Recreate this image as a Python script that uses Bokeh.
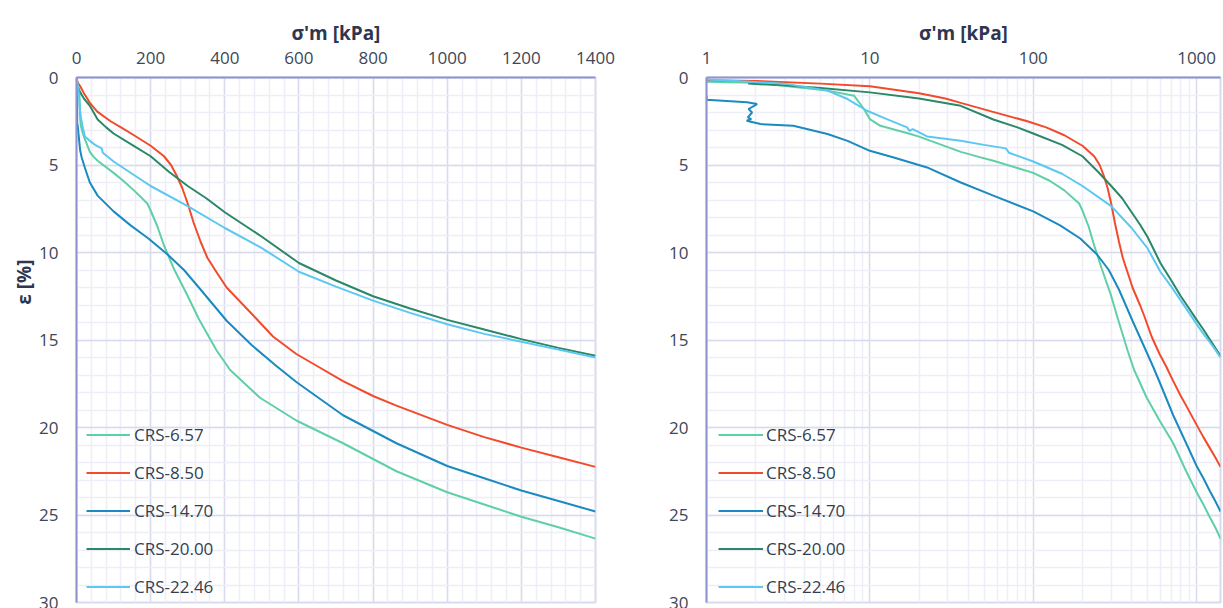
import math
from bokeh.plotting import figure
from bokeh.layouts import row
from bokeh.models import (Range1d, FixedTicker, Legend, LegendItem, Title,
                          NumeralTickFormatter)
from bokeh.embed import file_html
from bokeh.resources import INLINE

# ---------------- data ----------------
series_names = ["CRS-6.57", "CRS-8.50", "CRS-14.70", "CRS-20.00", "CRS-22.46"]
series_colors = ["#5FCFA6", "#F24B2C", "#1A8AC0", "#2B8866", "#5CC8F2"]

sig_657 = [0, 1, 2, 5.5, 8, 9.2, 10, 11.6, 17.7, 20, 36, 47, 57, 100, 126, 155, 191, 200,
           218, 236, 262, 298, 330, 378, 414, 495, 593, 719, 863, 1000, 1100, 1200, 1300, 1400]
eps_657 = [0, 0.24, 0.3, 0.75, 1.04, 1.8, 2.38, 2.76, 3.23, 3.38, 4.25, 4.55, 4.76, 5.45, 5.9, 6.45, 7.2, 7.6,
           8.5, 9.6, 10.9, 12.4, 13.8, 15.6, 16.7, 18.3, 19.6, 20.9, 22.5, 23.7, 24.4, 25.1, 25.7, 26.35]

sig_850 = [0, 1, 2, 5, 10, 20, 29, 36, 56, 92, 120, 155, 200, 236, 255, 270, 285, 300, 316, 335,
           353, 380, 405, 450, 477, 530, 593, 650, 719, 800, 863, 1000, 1100, 1200, 1300, 1400]
eps_850 = [0, 0.15, 0.2, 0.35, 0.5, 0.9, 1.2, 1.45, 1.95, 2.5, 2.85, 3.3, 3.9, 4.5, 5.0, 5.6, 6.3, 7.2, 8.3, 9.4,
           10.3, 11.2, 12.0, 13.0, 13.6, 14.8, 15.8, 16.5, 17.35, 18.2, 18.75, 19.85, 20.55, 21.15, 21.7, 22.25]

sig_1470 = [0, 1.0, 1.0, 1.77, 2.04, 1.81, 1.90, 1.79, 1.88, 1.76, 2.14, 3.4, 5.5, 7.3, 10, 14, 22.4, 36, 57,
            100, 146, 194, 245, 290, 334, 405, 473, 540, 593, 719, 863, 1000, 1100, 1200, 1300, 1400]
eps_1470 = [0, 1.04, 1.27, 1.42, 1.52, 1.80, 2.0, 2.28, 2.38, 2.47, 2.66, 2.76, 3.23, 3.62, 4.19, 4.57, 5.14, 6.0, 6.75,
            7.65, 8.45, 9.2, 10.1, 11.0, 12.1, 13.9, 15.3, 16.5, 17.4, 19.3, 20.9, 22.2, 22.9, 23.6, 24.2, 24.8]

sig_2000 = [0, 1.8, 3, 5, 10, 20, 36, 57, 80, 100, 150, 200, 250, 300, 350, 400, 450, 500,
            600, 700, 800, 900, 1000, 1100, 1200, 1300, 1400]
eps_2000 = [0, 0.35, 0.45, 0.6, 0.85, 1.2, 1.62, 2.4, 2.85, 3.2, 3.85, 4.5, 5.4, 6.2, 6.9, 7.7, 8.4, 9.1,
            10.6, 11.6, 12.5, 13.2, 13.85, 14.4, 14.95, 15.45, 15.9]

sig_2246 = [0, 1, 3, 5.5, 7.3, 9.6, 12.7, 16.9, 17.5, 18.3, 22.4, 36, 50, 68, 71, 100, 150, 200,
            300, 400, 500, 600, 700, 800, 900, 1000, 1100, 1200, 1300, 1400]
eps_2246 = [0, 0.12, 0.35, 0.75, 1.23, 1.9, 2.38, 2.85, 3.05, 2.95, 3.37, 3.62, 3.85, 4.05, 4.3, 4.8, 5.5, 6.2,
            7.35, 8.6, 9.75, 11.1, 11.95, 12.75, 13.45, 14.1, 14.65, 15.1, 15.55, 16.0]

series = [(sig_657, eps_657), (sig_850, eps_850), (sig_1470, eps_1470),
          (sig_2000, eps_2000), (sig_2246, eps_2246)]

x_ticks_lin = [0, 200, 400, 600, 800, 1000, 1200, 1400]
x_ticks_log = [1, 10, 100, 1000]
y_ticks = [0, 5, 10, 15, 20, 25, 30]
x_title = "σ'm [kPa]"
y_title = "ε [%]"

# ---------------- style ----------------
FONT = "Open Sans"
AXIS_COL = "#8E94CD"
MAJOR_GRID = "#D8DAEE"
MINOR_GRID = "#EDEEF7"
TICK_TXT = "#404656"
TITLE_TXT = "#2E3650"
LEG_TXT = "#333F50"


def style(p):
    p.background_fill_color = "white"
    p.border_fill_color = "white"
    p.outline_line_color = MAJOR_GRID
    p.outline_line_width = 2
    for ax in (p.xaxis[0], p.yaxis[0]):
        ax.axis_line_color = AXIS_COL
        ax.axis_line_width = 2
        ax.major_tick_line_color = None
        ax.minor_tick_line_color = None
        ax.major_tick_out = 0
        ax.major_tick_in = 0
        ax.minor_tick_out = 0
        ax.minor_tick_in = 0
        ax.major_label_text_font = FONT
        ax.major_label_text_font_size = "17px"
        ax.major_label_text_color = TICK_TXT
    p.xaxis[0].major_label_standoff = 14
    p.yaxis[0].major_label_standoff = 18
    p.xaxis[0].axis_label = x_title
    p.xaxis[0].axis_label_text_font = FONT
    p.xaxis[0].axis_label_text_font_size = "19px"
    p.xaxis[0].axis_label_text_font_style = "bold"
    p.xaxis[0].axis_label_text_color = TITLE_TXT
    p.xaxis[0].axis_label_standoff = 3
    for g in (p.xgrid[0], p.ygrid[0]):
        g.grid_line_color = MAJOR_GRID
        g.grid_line_width = 1.5
        g.minor_grid_line_color = MINOR_GRID
        g.minor_grid_line_width = 1.5


def add_lines(p, log=False):
    rends = []
    for (sx, ey), col in zip(series, series_colors):
        if log:
            pts = [(s, e) for s, e in zip(sx, ey) if s > 0]
            sx = [q[0] for q in pts]
            ey = [q[1] for q in pts]
        r = p.line(sx, ey, line_color=col, line_width=2)
        rends.append(r)
    return rends


def add_legend(p, rends, x_off, glyph_w, standoff):
    items = [LegendItem(label=n, renderers=[r]) for n, r in zip(series_names, rends)]
    leg = Legend(items=items, location=(x_off, 4), orientation="vertical",
                 glyph_width=glyph_w, glyph_height=23, label_height=23,
                 label_standoff=standoff, spacing=15, padding=4, margin=0,
                 background_fill_alpha=0, border_line_color=None,
                 label_text_font=FONT, label_text_font_size="17px",
                 label_text_color=LEG_TXT)
    p.add_layout(leg)


# ---------------- left (linear) ----------------
p1 = figure(width=620, height=608, x_range=Range1d(0, 1400), y_range=Range1d(30, 0),
            x_axis_location="above", output_backend="svg", toolbar_location=None,
            min_border_left=76, min_border_right=25, min_border_top=77, min_border_bottom=6)
p1.xaxis[0].ticker = FixedTicker(ticks=x_ticks_lin,
                                 minor_ticks=[v for v in range(0, 1401, 40)])
p1.yaxis[0].ticker = FixedTicker(ticks=y_ticks, minor_ticks=list(range(0, 31)))
p1.xgrid[0].ticker = p1.xaxis[0].ticker
p1.ygrid[0].ticker = p1.yaxis[0].ticker
style(p1)
r1 = add_lines(p1)
add_legend(p1, r1, 10, 44, 4)
p1.add_layout(Title(text=y_title, align="right", offset=182, standoff=0,
                    text_font=FONT, text_font_size="19px", text_font_style="bold",
                    text_color=TITLE_TXT), "left")

# ---------------- right (log) ----------------
minor_log = []
for dec in (1, 10, 100, 1000):
    for k in range(2, 10):
        minor_log.append(dec * k)
p2 = figure(width=603, height=608, x_range=Range1d(1, 1400), y_range=Range1d(30, 0),
            x_axis_type="log", x_axis_location="above", output_backend="svg",
            toolbar_location=None,
            min_border_left=86, min_border_right=3, min_border_top=77, min_border_bottom=6)
p2.xaxis[0].ticker = FixedTicker(ticks=x_ticks_log, minor_ticks=minor_log)
p2.xaxis[0].formatter = NumeralTickFormatter(format="0")
p2.yaxis[0].ticker = FixedTicker(ticks=y_ticks, minor_ticks=list(range(0, 31)))
p2.xgrid[0].ticker = p2.xaxis[0].ticker
p2.ygrid[0].ticker = p2.yaxis[0].ticker
style(p2)
r2 = add_lines(p2, log=True)
add_legend(p2, r2, 12, 45, 3)

layout = row(p1, p2)
open("out.html", "w").write(file_html(layout, INLINE))
